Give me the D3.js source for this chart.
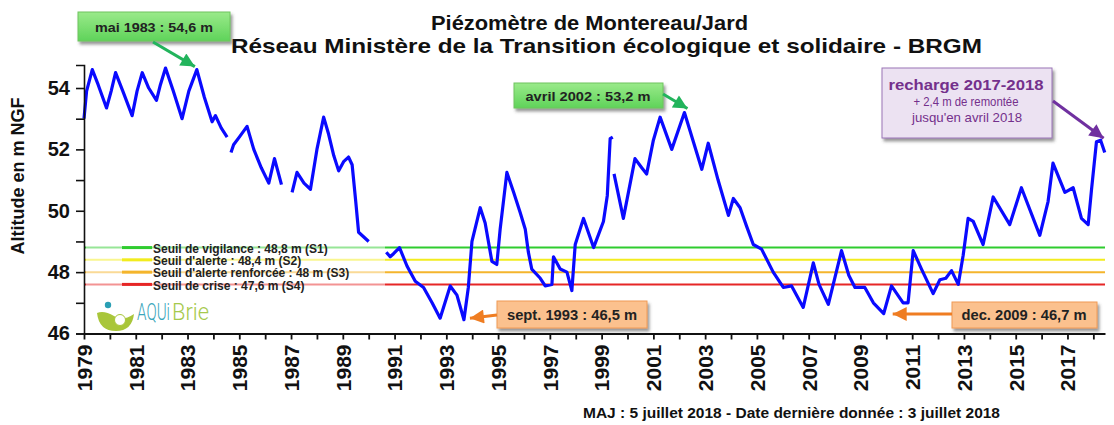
<!DOCTYPE html>
<html>
<head>
<meta charset="utf-8">
<script src="https://cdn.jsdelivr.net/npm/d3@7"></script>
<style>
body { margin: 0; background: #fff; }
svg { display: block; font-family: "Liberation Sans", Arial, sans-serif; }
</style>
</head>
<body>
<svg width="1114" height="425"></svg>
<script>
// niveau piezometrique (m NGF), annees decimales ; null = lacune
var years = [
  1979.00, 1979.10, 1979.32, 1979.55, 1979.87, 1980.05, 1980.22, 1980.50, 1980.86, 1981.05,
  1981.25, 1981.50, 1981.80, 1981.95, 1982.15, 1982.45, 1982.79, 1983.05, 1983.36, 1983.65,
  1983.95, 1984.08, 1984.30, 1984.53, 1984.60, 1984.68, 1984.78, 1985.00, 1985.30, 1985.56,
  1985.85, 1986.14, 1986.36, 1986.63, 1986.80, 1987.04, 1987.23, 1987.50, 1987.75, 1988.00,
  1988.26, 1988.45, 1988.65, 1988.84, 1989.03, 1989.22, 1989.36, 1989.50, 1989.61, 1990.00,
  1990.30, 1990.68, 1990.83, 1990.96, 1991.19, 1991.48, 1991.80, 1992.12, 1992.45, 1992.76,
  1993.15, 1993.41, 1993.68, 1993.85, 1993.99, 1994.31, 1994.50, 1994.76, 1994.95, 1995.08,
  1995.34, 1995.60, 1995.85, 1996.05, 1996.17, 1996.30, 1996.63, 1996.82, 1997.08, 1997.14,
  1997.40, 1997.66, 1997.85, 1997.98, 1998.30, 1998.69, 1999.07, 1999.22, 1999.33, 1999.43,
  1999.45, 1999.48, 1999.84, 2000.29, 2000.55, 2000.74, 2001.00, 2001.26, 2001.71, 2002.20,
  2002.87, 2003.12, 2003.50, 2003.90, 2004.09, 2004.35, 2004.60, 2004.86, 2005.18, 2005.63,
  2006.02, 2006.34, 2006.79, 2007.18, 2007.40, 2007.76, 2008.27, 2008.55, 2008.79, 2009.17,
  2009.50, 2009.90, 2010.20, 2010.65, 2010.84, 2011.04, 2011.36, 2011.81, 2012.07, 2012.30,
  2012.52, 2012.78, 2012.97, 2013.16, 2013.36, 2013.74, 2014.13, 2014.77, 2015.22, 2015.93,
  2016.25, 2016.44, 2016.90, 2017.22, 2017.54, 2017.80, 2017.93, 2018.12, 2018.28, 2018.44
];
var levels = [
  53.0, 53.9, 54.6, 54.1, 53.35, 53.9, 54.5, 53.9, 53.1, 53.9,
  54.5, 54.0, 53.6, 54.1, 54.65, 53.9, 53.0, 53.9, 54.6, 53.7,
  52.9, 53.1, 52.7, 52.4, null, 51.9, 52.15, 52.4, 52.75, 52.0,
  51.4, 50.9, 51.7, 50.85, null, 50.6, 51.25, 50.9, 50.7, 52.0,
  53.05, 52.5, 51.8, 51.3, 51.6, 51.75, 51.5, 50.3, 49.3, 49.0,
  null, 48.65, 48.5, 48.6, 48.8, 48.2, 47.7, 47.5, 47.0, 46.5,
  47.55, 47.25, 46.45, 47.5, 49.0, 50.1, 49.6, 48.35, 48.25, 49.4,
  51.25, 50.6, 49.95, 49.4, 48.65, 48.1, 47.8, 47.55, 47.6, 48.5,
  48.1, 48.0, 47.4, 48.9, 49.75, 48.8, 49.65, 50.5, 52.35, 52.4,
  null, 51.2, 49.75, 51.7, 51.4, 51.2, 52.3, 53.05, 52.0, 53.2,
  51.35, 52.2, 51.0, 49.85, 50.4, 50.1, 49.5, 48.9, 48.75, 48.0,
  47.5, 47.55, 46.85, 48.3, 47.6, 46.95, 48.7, 47.9, 47.5, 47.5,
  47.0, 46.65, 47.55, 47.0, 47.0, 48.7, 48.1, 47.3, 47.75, 47.8,
  48.05, 47.6, 48.55, 49.75, 49.65, 48.9, 50.45, 49.55, 50.75, 49.2,
  50.3, 51.55, 50.6, 50.75, 49.75, 49.55, 50.7, 52.25, 52.3, 51.9
];

var thresholdValues = [48.8, 48.4, 48, 47.6];
var thresholdLabels = [
  "Seuil de vigilance : 48,8 m (S1)",
  "Seuil d'alerte : 48,4 m (S2)",
  "Seuil d'alerte renforcée : 48 m (S3)",
  "Seuil de crise : 47,6 m (S4)"
];
var thresholdColors = ["#2fcc2f", "#f2ec1e", "#f4b52c", "#e62626"];

var extremeLabels = ["mai 1983 : 54,6 m", "avril 2002 : 53,2 m", "sept. 1993 : 46,5 m", "dec. 2009 : 46,7 m"];
var extremeYears = [1983.36, 2002.2, 1993.68, 2009.9];
var extremeValues = [54.6, 53.2, 46.5, 46.7];

var svg = d3.select("svg");
var x = d3.scaleLinear().domain([1979, 2018.45]).range([84, 1105]);
var y = d3.scaleLinear().domain([46, 54.75]).range([333.5, 65]);

var defs = svg.append("defs");
var shadow = defs.append("filter").attr("id", "shadow")
  .attr("x", "-10%").attr("y", "-20%").attr("width", "130%").attr("height", "160%");
shadow.append("feDropShadow").attr("dx", 2).attr("dy", 3).attr("stdDeviation", 1.5)
  .attr("flood-color", "#444").attr("flood-opacity", 0.55);

var grad = defs.append("linearGradient").attr("id", "green").attr("x1", 0).attr("x2", 0).attr("y1", 0).attr("y2", 1);
grad.append("stop").attr("offset", "0%").attr("stop-color", "#9aea8a");
grad.append("stop").attr("offset", "100%").attr("stop-color", "#5fd35a");

function marker(id, color, len, wid) {
  defs.append("marker").attr("id", id)
    .attr("markerUnits", "userSpaceOnUse")
    .attr("viewBox", "0 0 10 10").attr("refX", 10).attr("refY", 5)
    .attr("markerWidth", len).attr("markerHeight", wid)
    .attr("orient", "auto")
    .append("path").attr("d", "M0,0L10,5L0,10Z").attr("fill", color);
}
marker("ag", "#22b45c", 16, 14);
marker("ao", "#ef7d22", 16, 14);
marker("ap", "#7030a0", 16, 14);

// titres
svg.append("text").attr("x", 431).attr("y", 30)
  .attr("font-size", 21).attr("font-weight", "bold").attr("fill", "#111")
  .attr("textLength", 317).attr("lengthAdjust", "spacingAndGlyphs")
  .text("Piézomètre de Montereau/Jard");
svg.append("text").attr("x", 231).attr("y", 53)
  .attr("font-size", 21).attr("font-weight", "bold").attr("fill", "#111")
  .attr("textLength", 751).attr("lengthAdjust", "spacingAndGlyphs")
  .text("Réseau Ministère de la Transition écologique et solidaire - BRGM");

// seuils
svg.append("g").selectAll("line").data(thresholdValues).enter().append("line")
  .attr("x1", x(1979)).attr("x2", x.range()[1])
  .attr("y1", function(d) { return y(d); }).attr("y2", function(d) { return y(d); })
  .attr("stroke", function(d, i) { return thresholdColors[i]; })
  .attr("stroke-width", 2);

// legende des seuils
var leg = svg.append("g");
leg.append("rect").attr("x", 86).attr("y", 239).attr("width", 299).attr("height", 53)
  .attr("fill", "#fff").attr("opacity", 0.5);
leg.selectAll("line").data(thresholdValues).enter().append("line")
  .attr("x1", 122).attr("x2", 152)
  .attr("y1", function(d) { return y(d); }).attr("y2", function(d) { return y(d); })
  .attr("stroke", function(d, i) { return thresholdColors[i]; })
  .attr("stroke-width", 3);
leg.selectAll("text").data(thresholdLabels).enter().append("text")
  .attr("x", 153)
  .attr("y", function(d, i) { return y(thresholdValues[i]) + 1; })
  .attr("dy", "0.35em")
  .attr("font-size", 12).attr("font-weight", "bold").attr("fill", "#222")
  .text(function(d) { return d; });

// logo AQUiBrie
var logo = svg.append("g");
logo.append("path")
  .attr("d", "M97,313 Q99,331 116,331 Q132,331 134,314 Q122,322 114,316 Q104,310 97,313Z")
  .attr("fill", "#a9c63a");
logo.append("circle").attr("cx", 120).attr("cy", 320).attr("r", 5.5).attr("fill", "#fff")
  .attr("stroke", "#a9c63a").attr("stroke-width", 1);
logo.append("circle").attr("cx", 108).attr("cy", 305).attr("r", 3.2).attr("fill", "#2a9fb4");
function logoWord(txt, x0, w, color) {
  var t = logo.append("text").attr("x", 0).attr("y", 0).attr("fill", color)
    .attr("font-family", "Roboto, 'Open Sans', sans-serif").attr("font-weight", 300)
    .attr("font-size", 23).text(txt);
  var k = w / t.node().getComputedTextLength();
  t.attr("transform", "translate(" + x0 + ",320) scale(" + k + ",1)");
}
logoWord("AQUi", 137, 33, "#3aa6bc");
logoWord("Brie", 172, 37, "#a6c94c");

// serie
var series = years.map(function(d, i) { return { t: d, v: levels[i] }; });
var line = d3.line()
  .defined(function(d) { return d.v != null; })
  .x(function(d) { return x(d.t); })
  .y(function(d) { return y(d.v); });
svg.append("path").datum(series)
  .attr("d", line)
  .attr("fill", "none")
  .attr("stroke", "#0a0aff")
  .attr("stroke-width", 3.2)
  .attr("stroke-linejoin", "round");

// axes
var yAxis = svg.append("g").attr("transform", "translate(84,0)")
  .call(d3.axisLeft(y).tickValues(d3.range(46, 55)).tickSize(8).tickSizeOuter(8).tickPadding(6)
    .tickFormat(function(d) { return d % 2 === 0 ? d : ""; }));
yAxis.selectAll("text").attr("font-size", 20).attr("font-weight", "bold").attr("fill", "#111")
  .attr("font-family", "'Liberation Sans', Arial, sans-serif");
yAxis.selectAll("path, line").attr("stroke", "#111").attr("stroke-width", 1.6);

var xAxis = svg.append("g").attr("transform", "translate(0,333.5)")
  .call(d3.axisBottom(x).tickValues(d3.range(1979, 2019)).tickSize(6).tickSizeOuter(0)
    .tickFormat(function(d) { return (d - 1979) % 2 === 0 ? d : ""; }));
xAxis.selectAll("path, line").attr("stroke", "#111").attr("stroke-width", 1.8);
xAxis.selectAll("text")
  .attr("font-size", 21).attr("font-weight", "bold").attr("fill", "#111")
  .attr("font-family", "'Liberation Sans', Arial, sans-serif")
  .attr("transform", "rotate(-90)")
  .attr("x", -11).attr("y", 0).attr("dy", "0.35em")
  .style("text-anchor", "end");

svg.append("text").attr("transform", "translate(24,176) rotate(-90)")
  .attr("text-anchor", "middle").attr("font-size", 18).attr("font-weight", "bold").attr("fill", "#111")
  .text("Altitude en m NGF");

// annotations
function box(x0, y0, w, h, fill, stroke) {
  svg.append("rect").attr("x", x0).attr("y", y0).attr("width", w).attr("height", h)
    .attr("fill", fill).attr("stroke", stroke).attr("stroke-width", 1)
    .attr("filter", "url(#shadow)");
}
function label(cx, cy, txt, size, len) {
  svg.append("text").attr("x", cx).attr("y", cy).attr("dy", "0.35em").attr("text-anchor", "middle")
    .attr("font-size", size).attr("font-weight", "bold").attr("fill", "#222")
    .attr("textLength", len).attr("lengthAdjust", "spacingAndGlyphs").text(txt);
}
function arrow(x1, y1, x2, y2, color, id) {
  svg.append("line").attr("x1", x1).attr("y1", y1).attr("x2", x2).attr("y2", y2)
    .attr("stroke", color).attr("stroke-width", 3).attr("marker-end", "url(#" + id + ")");
}

box(78, 12, 152, 29, "url(#green)", "#6fc45f");
label(154, 27, extremeLabels[0], 13.5, 118);
arrow(153, 42, x(extremeYears[0]) - 2, y(extremeValues[0]) - 3, "#22b45c", "ag");

box(514, 83, 149, 25, "url(#green)", "#6fc45f");
label(588, 96, extremeLabels[1], 13.5, 125);
arrow(663, 94, x(extremeYears[1]) + 3, y(extremeValues[1]) - 4, "#22b45c", "ag");

box(497, 301, 150, 27, "#fbc18e", "#f09a55");
label(572, 315, extremeLabels[2], 14.5, 130);
arrow(497, 315, x(extremeYears[2]) + 6, y(extremeValues[2]), "#ef7d22", "ao");

box(952, 302, 145, 26, "#fbc18e", "#f09a55");
label(1024, 315, extremeLabels[3], 14.5, 125);
arrow(952, 314, x(extremeYears[3]) + 9, y(extremeValues[3]) + 2, "#ef7d22", "ao");

box(882, 68, 170, 70, "#ece2f2", "#9a74b6");
svg.append("text").attr("x", 966).attr("y", 90).attr("text-anchor", "middle")
  .attr("font-size", 15.5).attr("font-weight", "bold").attr("fill", "#74308c")
  .attr("textLength", 155).attr("lengthAdjust", "spacingAndGlyphs")
  .text("recharge 2017-2018");
svg.append("text").attr("x", 966).attr("y", 106).attr("text-anchor", "middle")
  .attr("font-size", 13).attr("fill", "#74308c").attr("textLength", 105).attr("lengthAdjust", "spacingAndGlyphs")
  .text("+ 2,4 m de remontée");
svg.append("text").attr("x", 967).attr("y", 122).attr("text-anchor", "middle")
  .attr("font-size", 13).attr("fill", "#74308c").attr("textLength", 110).attr("lengthAdjust", "spacingAndGlyphs")
  .text("jusqu'en avril 2018");
arrow(1053, 101, x(2018.28) + 3, y(52.3) - 2, "#7030a0", "ap");

// pied
svg.append("text").attr("x", 583).attr("y", 418)
  .attr("font-size", 14).attr("font-weight", "bold").attr("fill", "#111")
  .attr("textLength", 417).attr("lengthAdjust", "spacingAndGlyphs")
  .text("MAJ : 5 juillet 2018 -  Date dernière donnée  : 3 juillet 2018");
</script>
</body>
</html>
